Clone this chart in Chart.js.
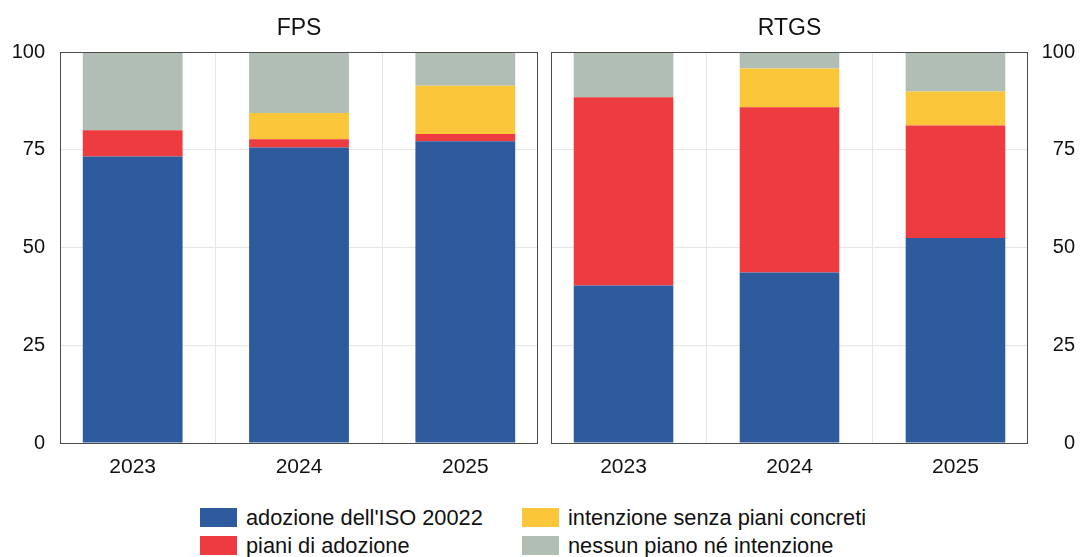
<!DOCTYPE html>
<html>
<head>
<meta charset="utf-8">
<script src="https://cdn.jsdelivr.net/npm/chart.js@4"></script>
<style>
  html, body { margin: 0; padding: 0; background: #fff; }
  body { width: 1080px; height: 557px; position: relative; overflow: hidden; font-family: "Liberation Sans", Arial, sans-serif; }
  #c1 { position: absolute; left: 0; top: 0; }
  #c2 { position: absolute; left: 545px; top: 0; }
  .leg { position: absolute; font-size: 21.8px; color: #111; line-height: 20px; white-space: nowrap; }
  .sw { position: absolute; width: 37px; height: 19px; }
</style>
</head>
<body>
<canvas id="c1" width="545" height="490"></canvas>
<canvas id="c2" width="535" height="490"></canvas>
<div id="legend"></div>
<script>
const categories = ["2023", "2024", "2025"];
const seriesNames = ["adozione dell'ISO 20022", "piani di adozione", "intenzione senza piani concreti", "nessun piano né intenzione"];
const fpsAdozione   = [73.3, 75.6, 77.2];
const fpsPiani      = [6.7, 2.1, 1.8];
const fpsIntenzione = [0, 6.7, 12.4];
const fpsNessuno    = [20.0, 15.6, 8.6];
const rtgsAdozione   = [40.3, 43.6, 52.4];
const rtgsPiani      = [48.1, 42.3, 28.8];
const rtgsIntenzione = [0, 9.9, 8.7];
const rtgsNessuno    = [11.6, 4.2, 10.1];
const yTicks = [0, 25, 50, 75, 100];
const colors = ["#2e5a9e", "#ee3b40", "#fcc63a", "#b0beb5"];

const FONT = '"Liberation Sans", Arial, sans-serif';
const X_MIN = -0.437, X_MAX = categories.length - 1 + 0.437;

const framePlugin = {
  id: 'frame',
  afterDatasetsDraw(chart) {
    const a = chart.chartArea, ctx = chart.ctx;
    ctx.save();
    ctx.strokeStyle = '#4d4d4d';
    ctx.lineWidth = 1;
    ctx.strokeRect(Math.round(a.left) + 0.5, Math.round(a.top) + 0.5, Math.round(a.right - a.left) - 1, Math.round(a.bottom - a.top));
    ctx.restore();
  }
};

function makeChart(id, title, series, side, opts) {
  const datasets = series.map((d, i) => ({
    label: seriesNames[i],
    data: d.map((v, j) => ({ x: j, y: v })),
    backgroundColor: colors[i],
    borderWidth: 0,
    barPercentage: 0.6,
    categoryPercentage: 1.0
  }));
  return new Chart(document.getElementById(id), {
    type: 'bar',
    data: { datasets },
    plugins: [framePlugin],
    options: {
      responsive: false,
      animation: false,
      devicePixelRatio: 1,
      layout: { padding: opts.padding },
      plugins: {
        legend: { display: false },
        tooltip: { enabled: false },
        title: {
          display: true, text: title, fullSize: false, color: '#111',
          font: { family: FONT, size: 23, weight: 'normal' },
          padding: { top: 15, bottom: 9.4 }
        }
      },
      scales: {
        x: {
          type: 'linear',
          stacked: true,
          offset: false,
          min: X_MIN, max: X_MAX,
          afterBuildTicks(s) { s.ticks = categories.map((c, j) => ({ value: j })); },
          grid: { display: false, offset: false },
          border: { display: false },
          ticks: { color: '#111', font: { family: FONT, size: 21 }, padding: 4,
                   autoSkip: false, maxRotation: 0,
                   callback: (v) => categories[v] },
          afterFit(s) { s.height = 47; }
        },
        xg: {
          type: 'linear',
          position: 'bottom',
          offset: false,
          display: true,
          min: X_MIN, max: X_MAX,
          afterBuildTicks(s) { s.ticks = categories.slice(1).map((c, j) => ({ value: j + 0.5 })); },
          grid: { color: '#e6e6e6', drawTicks: false, offset: false },
          border: { display: false },
          ticks: { display: false },
          afterFit(s) { s.height = 0; }
        },
        y: {
          stacked: true,
          position: side,
          min: 0, max: 100,
          afterBuildTicks(s) { s.ticks = yTicks.map(v => ({ value: v })); },
          grid: { color: '#e6e6e6', drawTicks: false },
          border: { display: false },
          ticks: { color: '#111', font: { family: FONT, size: 20 }, padding: opts.tickPad, crossAlign: side === 'right' ? 'far' : 'near' },
          afterFit(s) { s.width = opts.yWidth; }
        }
      }
    }
  });
}

makeChart('c1', 'FPS', [fpsAdozione, fpsPiani, fpsIntenzione, fpsNessuno], 'left',
  { padding: { left: 0, right: 7, top: 0, bottom: 0 }, yWidth: 60, tickPad: 15 });
makeChart('c2', 'RTGS', [rtgsAdozione, rtgsPiani, rtgsIntenzione, rtgsNessuno], 'right',
  { padding: { left: 6, right: 5, top: 0, bottom: 0 }, yWidth: 47, tickPad: 7 });

// HTML legend (2 columns)
const legPos = [
  { sx: 200, sy: 508 }, { sx: 200, sy: 536 },
  { sx: 522, sy: 508 }, { sx: 522, sy: 536 }
];
const legend = document.getElementById('legend');
seriesNames.forEach((name, i) => {
  const p = legPos[i];
  const sw = document.createElement('div');
  sw.className = 'sw';
  sw.style.left = p.sx + 'px'; sw.style.top = p.sy + 'px';
  sw.style.background = colors[i];
  legend.appendChild(sw);
  const t = document.createElement('div');
  t.className = 'leg';
  t.style.left = (p.sx + 46) + 'px'; t.style.top = (p.sy) + 'px';
  t.textContent = name;
  legend.appendChild(t);
});
</script>
</body>
</html>
